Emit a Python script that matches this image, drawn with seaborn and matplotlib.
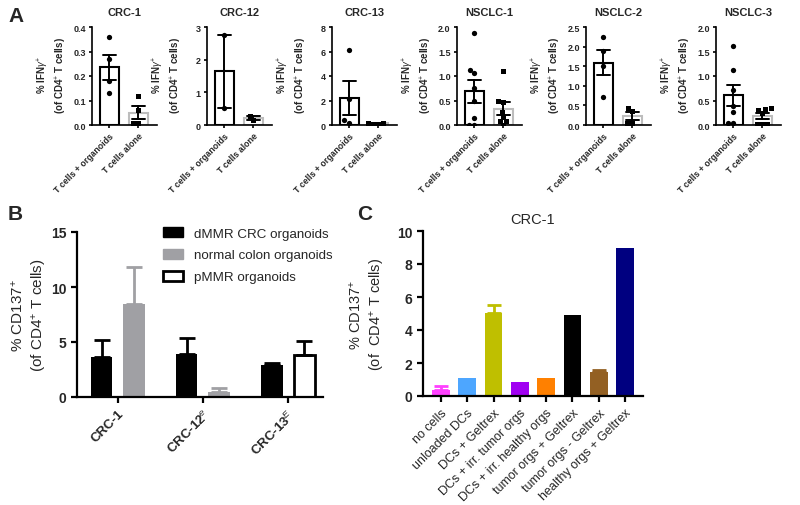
import numpy as np
import pandas as pd
import matplotlib
matplotlib.use("Agg")
import matplotlib.pyplot as plt
from matplotlib.patches import Patch
import seaborn as sns

# ---------------- panel A : % IFNg+ (of CD4+ T cells), single replicates
a_titles = ['CRC-1', 'CRC-12', 'CRC-13', 'NSCLC-1', 'NSCLC-2', 'NSCLC-3']
a_conds = ['T cells + organoids', 'T cells alone']
crc1_org = [0.36, 0.27, 0.18, 0.13]
crc1_alone = [0.12, 0.06, 0.01, 0.01]
crc12_org = [2.77, 0.53]
crc12_alone = [0.15, 0.27]
crc13_org = [6.1, 2.1, 0.4, 0.2]
crc13_alone = [0.15, 0.1, 0.1, 0.2]
nsclc1_org = [1.87, 1.13, 1.07, 0.75, 0.5, 0.15, 0.0, 0.0]
nsclc1_alone = [1.1, 0.49, 0.47, 0.27, 0.17, 0.08, 0.08, 0.0]
nsclc2_org = [2.25, 1.9, 1.5, 0.72]
nsclc2_alone = [0.43, 0.35, 0.05, 0.05]
nsclc3_org = [1.62, 1.13, 0.72, 0.38, 0.27, 0.05, 0.05]
nsclc3_alone = [0.35, 0.33, 0.3, 0.25, 0.03, 0.03, 0.03]
a_ymax = [0.4, 3, 8, 2.0, 2.5, 2.0]
a_ystep = [0.1, 1, 2, 0.5, 0.5, 0.5]

# ---------------- panel B : % CD137+ (mean, upper SEM)
b_samples = ['CRC-1', 'CRC-12$^{e}$', 'CRC-13$^{E}$']
b_conds = ['dMMR CRC organoids', 'normal colon organoids', 'pMMR organoids']
b_sample = ['CRC-1', 'CRC-1', 'CRC-12$^{e}$', 'CRC-12$^{e}$', 'CRC-13$^{E}$', 'CRC-13$^{E}$']
b_cond = ['dMMR CRC organoids', 'normal colon organoids',
          'dMMR CRC organoids', 'normal colon organoids',
          'dMMR CRC organoids', 'pMMR organoids']
b_mean = [3.6, 8.5, 3.9, 0.45, 2.95, 3.85]
b_sem = [1.55, 3.3, 1.5, 0.4, 0.1, 1.2]

# ---------------- panel C : CRC-1 controls
c_labels = ['no cells', 'unloaded DCs', 'DCs + Geltrex', 'DCs + irr. tumor orgs',
            'DCs + irr. healthy orgs', 'tumor orgs + Geltrex', 'tumor orgs - Geltrex',
            'healthy orgs + Geltrex']
c_vals = [0.35, 1.12, 5.05, 0.82, 1.12, 4.88, 1.43, 8.97]
c_err = [0.25, 0, 0.45, 0, 0, 0, 0.12, 0]
c_colors = ['#ff40ff', '#4da6ff', '#bfbf00', '#a100f2', '#ff8000', '#000000',
            '#936023', '#000080']

sns.set_theme(style='ticks')
plt.rcParams['font.family'] = ['Liberation Sans', 'DejaVu Sans']
plt.rcParams['mathtext.fontset'] = 'custom'
plt.rcParams['mathtext.rm'] = 'Liberation Sans'
plt.rcParams['mathtext.it'] = 'Liberation Sans:italic'
plt.rcParams['mathtext.bf'] = 'Liberation Sans:bold'

W, H = 800, 506
fig = plt.figure(figsize=(8, 5.06), dpi=100)


def px_axes(left, top, width, height):
    return fig.add_axes([left / W, 1 - (top + height) / H, width / W, height / H])


def style_axes(ax, lw, ticklen):
    sns.despine(ax=ax)
    for s in ['left', 'bottom']:
        ax.spines[s].set_linewidth(lw)
        ax.spines[s].set_color('black')
    ax.tick_params(width=lw, length=ticklen, color='black', direction='out')


# ---------------- A
a_org = [crc1_org, crc12_org, crc13_org, nsclc1_org, nsclc2_org, nsclc3_org]
a_alone = [crc1_alone, crc12_alone, crc13_alone, nsclc1_alone, nsclc2_alone, nsclc3_alone]
a_left = [92, 207, 332, 457, 586, 716]

for i, title in enumerate(a_titles):
    ax = px_axes(a_left[i], 28, 65, 98)
    df = pd.DataFrame({
        'cond': [a_conds[0]] * len(a_org[i]) + [a_conds[1]] * len(a_alone[i]),
        'val': a_org[i] + a_alone[i]})
    sns.barplot(data=df, x='cond', y='val', hue='cond', order=a_conds,
                palette={a_conds[0]: 'black', a_conds[1]: '#bdbdbd'}, saturation=1,
                fill=False, linewidth=1.5, width=0.65, errorbar='se',
                capsize=0.45, err_kws={'color': 'black', 'linewidth': 1.4},
                legend=False, ax=ax)
    sns.swarmplot(data=df[df.cond == a_conds[0]], x='cond', y='val', order=a_conds,
                  color='black', marker='o', size=3.8, ax=ax, zorder=5)
    sns.swarmplot(data=df[df.cond == a_conds[1]], x='cond', y='val', order=a_conds,
                  color='black', marker='s', size=3.6, ax=ax, zorder=5)
    ax.set_xlim(-0.6, 1.65)
    ax.set_ylim(0, a_ymax[i])
    ax.set_yticks(np.arange(0, a_ymax[i] + a_ystep[i] / 2, a_ystep[i]))
    if a_ystep[i] < 1:
        ax.set_yticklabels(['%.1f' % t for t in ax.get_yticks()])
    style_axes(ax, 1.2, 2.5)
    ax.set_xlabel('')
    ax.set_ylabel('% IFN$\\gamma^{+}$\n(of CD4$^{+}$ T cells)', fontsize=7,
                  fontweight='bold', linespacing=1.25)
    ax.yaxis.set_label_coords(-0.36, 0.52)
    ax.set_title(title, fontsize=8, fontweight='bold', pad=9)
    ax.tick_params(labelsize=6.5, pad=2)
    for lab in ax.get_yticklabels():
        lab.set_fontweight('bold')
    ax.set_xticks(range(2))
    ax.set_xticklabels(a_conds, rotation=45, ha='right', rotation_mode='anchor',
                       fontsize=6.3, fontweight='bold')

# ---------------- B
b_color = {'dMMR CRC organoids': 'black', 'normal colon organoids': '#a0a0a4',
           'pMMR organoids': 'white'}
b_pos = []
for j, s in enumerate(b_sample):
    first = j == 0 or b_sample[j - 1] != s
    b_pos.append(b_samples.index(s) + (-0.19 if first else 0.19))
dfb = pd.DataFrame({'pos': b_pos, 'cond': b_cond, 'mean': b_mean, 'sem': b_sem})

axb = px_axes(77, 233, 246, 165)
sns.barplot(data=dfb, x='pos', y='mean', hue='cond', hue_order=b_conds,
            palette=b_color, saturation=1, native_scale=True, dodge=False, width=0.66,
            errorbar=None, linewidth=0, legend=False, ax=axb)
for p in axb.patches:
    if p.get_facecolor()[:3] == (1.0, 1.0, 1.0):
        p.set_edgecolor('black')
        p.set_linewidth(2)
for x, m, e, c in zip(dfb['pos'], dfb['mean'], dfb['sem'], dfb['cond']):
    ec = 'black' if c != 'normal colon organoids' else b_color[c]
    axb.errorbar(x, m, yerr=[[0], [e]], fmt='none', ecolor=ec, elinewidth=2,
                 capsize=6, capthick=2, zorder=3)
axb.set_xlim(-0.48, 2.41)
axb.set_ylim(0, 15)
axb.set_yticks([0, 5, 10, 15])
style_axes(axb, 1.6, 4)
axb.set_xticks(range(3))
axb.set_xticklabels(b_samples, rotation=45, ha='right', rotation_mode='anchor',
                    fontsize=9.5, fontweight='bold')
axb.tick_params(axis='y', labelsize=10)
for lab in axb.get_yticklabels():
    lab.set_fontweight('bold')
axb.set_xlabel('')
axb.set_ylabel('% CD137$^{+}$\n(of CD4$^{+}$ T cells)', fontsize=11, linespacing=1.3)
axb.yaxis.set_label_coords(-0.115, 0.5)
handles = [Patch(facecolor='black', edgecolor='black'),
           Patch(facecolor='#a0a0a4', edgecolor='#a0a0a4'),
           Patch(facecolor='white', edgecolor='black', linewidth=2)]
fig.legend(handles, b_conds, loc='upper left', bbox_to_anchor=(163 / W, 1 - 228 / H),
           frameon=False, fontsize=9.6, handlelength=1.5, handleheight=0.75,
           handletextpad=0.8, labelspacing=0.7, borderpad=0, borderaxespad=0)

# ---------------- C
axc = px_axes(423, 232, 220, 165)
sns.barplot(x=c_labels, y=c_vals, hue=c_labels, palette=c_colors, saturation=1,
            legend=False, width=0.68, errorbar=None, linewidth=0, ax=axc)
for k, (v, e) in enumerate(zip(c_vals, c_err)):
    if e > 0:
        axc.errorbar(k, v, yerr=[[0], [e]], fmt='none', ecolor=c_colors[k],
                     elinewidth=2, capsize=5, capthick=2, zorder=3)
axc.set_xlim(-0.68, 7.68)
axc.set_ylim(0, 10)
axc.set_yticks(range(0, 11, 2))
style_axes(axc, 1.6, 4)
axc.set_xticks(range(len(c_labels)))
axc.set_xticklabels(c_labels, rotation=45, ha='right', rotation_mode='anchor',
                    fontsize=9)
axc.tick_params(axis='y', labelsize=10)
for lab in axc.get_yticklabels():
    lab.set_fontweight('bold')
axc.set_title('CRC-1', fontsize=10.5, pad=6)
axc.set_ylabel('% CD137$^{+}$\n(of  CD4$^{+}$ T cells)', fontsize=10.5, linespacing=1.3)
axc.yaxis.set_label_coords(-0.164, 0.5)

# panel letters
fig.text(8 / W, 1 - 22 / H, 'A', fontsize=15, fontweight='bold')
fig.text(8 / W, 1 - 220 / H, 'B', fontsize=15, fontweight='bold')
fig.text(357 / W, 1 - 220 / H, 'C', fontsize=15, fontweight='bold')

fig.savefig('out.png', dpi=100)
